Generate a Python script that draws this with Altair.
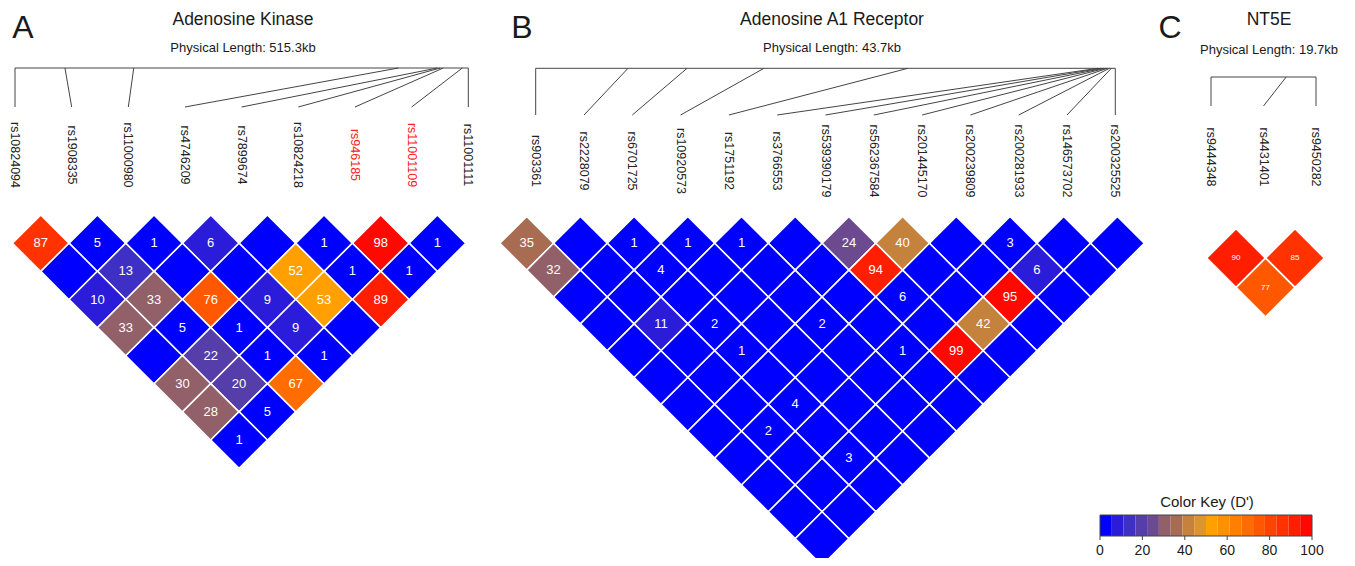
import altair as alt
import pandas as pd

FONT = "Liberation Sans, Arial, sans-serif"

# ---------------- data ----------------
# Panel A: Adenosine Kinase
snps_A = ["rs10824094", "rs1908335", "rs11000980", "rs4746209", "rs7899674",
          "rs10824218", "rs946185", "rs11001109", "rs11001111"]
kb_A = [0, 56.8, 135.0, 435.8, 480.1, 483.5, 486.9, 508.5, 515.3]
length_A = 515.3
highlight_A = ["rs946185", "rs11001109"]
# D' by marker distance (1..8); 0 = unlabelled cell
dprime_A = [
    [87, 5, 1, 6, 0, 1, 98, 1],
    [0, 13, 0, 0, 52, 1, 1],
    [10, 33, 76, 9, 53, 89],
    [33, 5, 1, 9, 0],
    [0, 22, 1, 1],
    [30, 20, 67],
    [28, 5],
    [1],
]

# Panel B: Adenosine A1 Receptor
snps_B = ["rs903361", "rs2228079", "rs6701725", "rs10920573", "rs1751192",
          "rs3766553", "rs539390179", "rs562367584", "rs201445170",
          "rs200239809", "rs200281933", "rs146573702", "rs200325525"]
kb_B = [0, 6.96, 11.41, 17.21, 28.07, 42.4, 42.6, 42.8, 42.95, 43.1, 43.25, 43.4, 43.7]
length_B = 43.7
highlight_B = []
dprime_B = [
    [35, 0, 1, 1, 1, 0, 24, 40, 0, 3, 0, 0],
    [32, 0, 4, 0, 0, 0, 94, 0, 0, 6, 0],
    [0, 0, 0, 0, 0, 0, 5.5, 0, 95, 0],
    [0, 11, 2, 0, 2, 0, 0, 42, 0],
    [0, 0, 1, 0, 0, 1, 99, 0],
    [0, 0, 0, 0, 0, 0, 0],
    [0, 0, 4, 0, 0, 0],
    [0, 2, 0, 0, 0],
    [0, 0, 3, 0],
    [0, 0, 0],
    [0, 0],
    [0],
]

# Panel C: NT5E
snps_C = ["rs9444348", "rs4431401", "rs9450282"]
kb_C = [0, 14.1, 19.7]
length_C = 19.7
highlight_C = []
dprime_C = [
    [90, 85],
    [77],
]

# colour key (D')
key_colors = ["#0000ff", "#2a1cd8", "#3e30c4", "#563eaa", "#6c4a90", "#926068",
              "#a86c52", "#c4823c", "#dc9430", "#ffa000", "#ff9000", "#ff8000",
              "#ff6c00", "#ff5800", "#ff4400", "#ff3200", "#ff1e00", "#ff0800"]
key_ticks = [0, 20, 40, 60, 80, 100]

nbins = len(key_colors)
edges = [100 * k / nbins for k in range(nbins + 1)]
cscale = alt.Scale(type="threshold", domain=edges[1:-1], range=key_colors)


def pair_table(dprime):
    rows = []
    for d, vals in enumerate(dprime, start=1):
        for i, v in enumerate(vals):
            rows.append({"i": i, "j": i + d, "u": 2 * i + d, "d": d, "dp": v,
                         "lab": str(int(v + 0.5)) if v > 0 else ""})
    return pd.DataFrame(rows)


def lin(domain, rng):
    return alt.Scale(domain=domain, range=rng, nice=False, zero=False)


def panel(snps, kb, length, dprime, highlight, g):
    n = len(snps)
    cells = pair_table(dprime)
    xs = lin([0, 2 * (n - 1)], g["cell_x"])
    ys = lin([1, n - 1], g["cell_y"])
    lx = lin([0, n - 1], g["lab_x"])
    layers = []
    layers.append(
        alt.Chart(cells).mark_point(shape="diamond", filled=True, size=g["size"],
                                    stroke="white", strokeWidth=1.6, opacity=1,
                                    fillOpacity=1).encode(
            x=alt.X("u:Q", scale=xs, axis=None),
            y=alt.Y("d:Q", scale=ys, axis=None),
            fill=alt.Fill("dp:Q", scale=cscale, legend=None),
        )
    )
    layers.append(
        alt.Chart(cells).mark_text(color="white", fontSize=g["fs"], font=FONT,
                                   align="center", baseline="middle").encode(
            x=alt.X("u:Q", scale=xs, axis=None),
            y=alt.Y("d:Q", scale=ys, axis=None),
            text="lab:N",
        )
    )
    lab_df = pd.DataFrame({"snp": snps, "idx": list(range(n)), "kb": kb,
                           "hl": [s in highlight for s in snps]})
    layers.append(
        alt.Chart(lab_df).transform_calculate(
            top=f"datum.kb / {length} * {n - 1}"
        ).mark_rule(color="#444444", strokeWidth=1).encode(
            x=alt.X("top:Q", scale=lx, axis=None),
            x2="idx:Q",
            y=alt.value(g["top_y"]),
            y2=alt.value(g["bot_y"]),
        )
    )
    layers.append(
        alt.Chart(pd.DataFrame({"a": [0], "b": [n - 1]})).mark_rule(
            color="#444444", strokeWidth=1).encode(
            x=alt.X("a:Q", scale=lx, axis=None),
            x2="b:Q",
            y=alt.value(g["top_y"]),
        )
    )
    layers.append(
        alt.Chart(lab_df).mark_text(angle=90, align="center", baseline="middle",
                                    fontSize=g["lab_fs"], font=FONT).encode(
            x=alt.X("idx:Q", scale=lx, axis=None),
            y=alt.value(g["lab_y"]),
            text="snp:N",
            color=alt.condition("datum.hl", alt.value("#ff2020"), alt.value("#222222")),
        )
    )
    # titles
    for txt, x, y, fs in [(g["letter"], g["letter_x"], 30, 32),
                          (g["title"], g["title_x"], 17, 17.5),
                          (g["sub"], g["title_x"], g["sub_y"], 13)]:
        layers.append(
            alt.Chart(pd.DataFrame({"t": [txt]})).mark_text(
                fontSize=fs, font=FONT, color="#1a1a1a", align="center",
                baseline="alphabetic").encode(
                x=alt.value(x), y=alt.value(y), text="t:N")
        )
    return layers


geo_A = dict(cell_x=[4.4, 457.7], cell_y=[235.3, 432.0], size=3204, fs=13,
             lab_x=[7.0, 460.3], lab_y=147, top_y=60, bot_y=99, lab_fs=12.5,
             letter="A", letter_x=15, title="Adenosine Kinase", title_x=235,
             sub="Physical Length: 515.3kb", sub_y=44)
geo_B = dict(cell_x=[491.85, 1136.25], cell_y=[235.3, 530.65], size=2884, fs=13,
             lab_x=[527.7, 1107.3], lab_y=153, top_y=60.3, bot_y=107, lab_fs=12.5,
             letter="B", letter_x=514, title="Adenosine A1 Receptor", title_x=824,
             sub="Physical Length: 43.7kb", sub_y=44)
geo_C = dict(cell_x=[1198.5, 1316.5], cell_y=[250, 279.5], size=3430, fs=8,
             lab_x=[1203, 1308], lab_y=149, top_y=69, bot_y=98, lab_fs=12.5,
             letter="C", letter_x=1162, title="NT5E", title_x=1261,
             sub="Physical Length: 19.7kb", sub_y=46)

layers = []
layers += panel(snps_A, kb_A, length_A, dprime_A, highlight_A, geo_A)
layers += panel(snps_B, kb_B, length_B, dprime_B, highlight_B, geo_B)
layers += panel(snps_C, kb_C, length_C, dprime_C, highlight_C, geo_C)

# colour key
kx = lin([0, 100], [1092, 1304])
key_df = pd.DataFrame({"lo": edges[:-1], "hi": edges[1:]})
key_df["mid"] = (key_df["lo"] + key_df["hi"]) / 2
layers.append(
    alt.Chart(key_df).mark_rect().encode(
        x=alt.X("lo:Q", scale=kx, axis=None), x2="hi:Q",
        y=alt.value(507), y2=alt.value(528),
        fill=alt.Fill("mid:Q", scale=cscale, legend=None),
    )
)
layers.append(
    alt.Chart(pd.DataFrame({"lo": [0], "hi": [100]})).mark_rect(
        fill="transparent", stroke="#444444", strokeWidth=1).encode(
        x=alt.X("lo:Q", scale=kx, axis=None), x2="hi:Q",
        y=alt.value(507), y2=alt.value(528),
    )
)
tick_df = pd.DataFrame({"v": key_ticks})
layers.append(
    alt.Chart(tick_df).mark_rule(color="#444444", strokeWidth=1).encode(
        x=alt.X("v:Q", scale=kx, axis=None), y=alt.value(528), y2=alt.value(532))
)
layers.append(
    alt.Chart(tick_df).mark_text(fontSize=14, font=FONT, color="#1a1a1a",
                                 align="center", baseline="middle").encode(
        x=alt.X("v:Q", scale=kx, axis=None), y=alt.value(543), text="v:Q")
)
layers.append(
    alt.Chart(pd.DataFrame({"t": ["Color Key (D')"]})).mark_text(
        fontSize=15, font=FONT, color="#1a1a1a", align="center",
        baseline="alphabetic").encode(x=alt.value(1199), y=alt.value(499), text="t:N")
)

chart = alt.layer(*layers).resolve_scale(
    x="independent", y="independent", fill="independent", color="independent"
).properties(
    width=1339, height=550, padding=0,
    autosize=alt.AutoSizeParams(type="none"),
).configure_view(strokeWidth=0)

chart.save("out.html", embed_options={"renderer": "svg", "actions": False})
